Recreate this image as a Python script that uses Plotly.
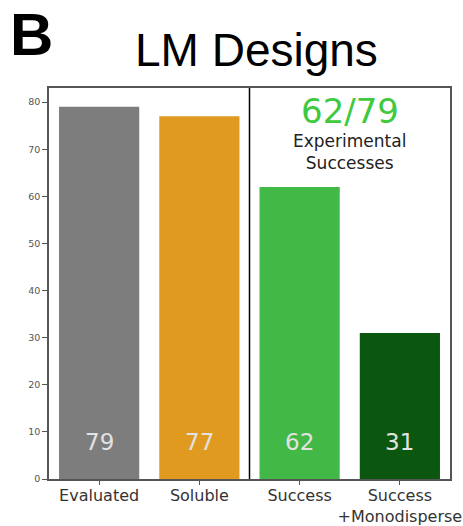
import plotly.graph_objects as go

categories = ["Evaluated", "Soluble", "Success", "Success<br>+Monodisperse"]
counts = [79, 77, 62, 31]
bar_colors = ["#7d7d7d", "#e09a20", "#42b846", "#0c570f"]
y_ticks = [0, 10, 20, 30, 40, 50, 60, 70, 80]

L, R, T, B = 49, 13, 88, 47
W, H = 463, 526
PW, PH = W - L - R, H - T - B

fig = go.Figure()
fig.add_trace(go.Bar(
    x=categories, y=counts, marker_color=bar_colors, width=0.8,
    marker_line_width=0, showlegend=False,
))

annotations = []
# count labels near the base of each bar
for cat, val in zip(categories, counts):
    annotations.append(dict(x=cat, y=7.9, text=str(val), showarrow=False,
                            font=dict(family="DejaVu Sans", size=23, color="#e2e2e2")))

annotations.append(dict(x=2.5, xref="x", y=78.1, yref="y", text="62/79", showarrow=False,
                        font=dict(family="DejaVu Sans", size=34, color="#3ec93f")))
annotations.append(dict(x=2.5, xref="x", y=69.4, yref="y",
                        text="Experimental<br>Successes", showarrow=False,
                        font=dict(family="DejaVu Sans", size=17, color="#222222")))

# panel letter and title
annotations.append(dict(x=(31 - L) / PW, xref="paper", xanchor="center",
                        y=1 + (T - 4) / PH, yref="paper", yanchor="top",
                        height=56, valign="middle",
                        text="<b>B</b>", showarrow=False,
                        font=dict(family="Liberation Sans", size=60, color="black")))
annotations.append(dict(x=(256 - L) / PW, xref="paper", xanchor="center",
                        y=1 + (T - 50) / PH, yref="paper", yanchor="middle",
                        text="LM Designs", showarrow=False,
                        font=dict(family="Liberation Sans", size=46, color="black")))

# divider between screening and success groups
fig.add_shape(type="line", xref="x", yref="paper", x0=1.5, x1=1.5, y0=0, y1=1,
              line=dict(color="black", width=1.5))

fig.update_layout(
    width=W, height=H,
    margin=dict(l=L, r=R, t=T, b=B),
    paper_bgcolor="white", plot_bgcolor="white",
    annotations=annotations,
)

fig.update_xaxes(
    range=[-0.5, 3.5], showline=True, mirror=True, linecolor="#555555", linewidth=1.5,
    ticks="outside", ticklen=4, tickcolor="#555555", automargin=False,
    ticklabelstandoff=-3,
    tickfont=dict(family="DejaVu Sans", size=16, color="#333333"),
    showgrid=False,
)
fig.update_yaxes(
    range=[0, 83], tickvals=y_ticks, showline=True, mirror=True, linecolor="#555555",
    linewidth=1.5, ticks="outside", ticklen=5, tickcolor="#555555", automargin=False,
    tickfont=dict(family="DejaVu Sans", size=9.5, color="#555555"),
    showgrid=False, zeroline=False,
)

fig.write_html("out.html")
